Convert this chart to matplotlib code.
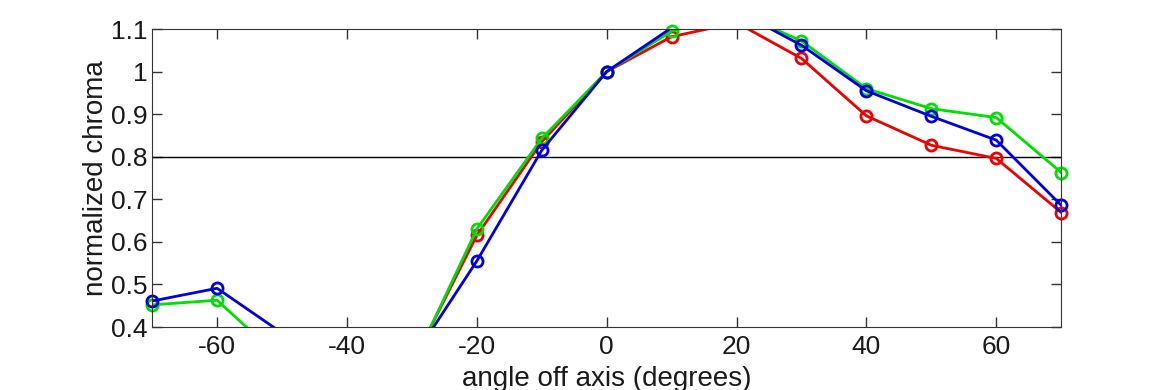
import matplotlib
matplotlib.use("Agg")
import numpy as np
import matplotlib.pyplot as plt
from matplotlib.ticker import FixedLocator, FuncFormatter

plt.rcParams["font.family"] = ["Liberation Sans", "DejaVu Sans"]
plt.rcParams["axes.unicode_minus"] = False

angles = [-70, -60, -50, -40, -30, -20, -10, 0, 10, 20, 30, 40, 50, 60, 70]
red   = [0.30, 0.30, 0.30, 0.30, 0.312, 0.615, 0.835, 1.0, 1.082, 1.115, 1.031, 0.896, 0.827, 0.796, 0.669]
green = [0.452, 0.463, 0.323, 0.30, 0.306, 0.630, 0.843, 1.0, 1.095, 1.14, 1.072, 0.960, 0.913, 0.892, 0.763]
blue  = [0.461, 0.491, 0.386, 0.30, 0.322, 0.555, 0.815, 1.0, 1.103, 1.143, 1.062, 0.955, 0.895, 0.839, 0.686]

YMIN, YMAX = 0.4, 1.1

fig = plt.figure(figsize=(11.7, 3.9), dpi=100)
ax = fig.add_axes([0.130, 0.1615, 0.777, 0.764])

ax.axhline(0.8, color="black", lw=1)
for ys, c in [(red, "#ee0000"), (green, "#00dd00"), (blue, "#0000dd")]:
    ys = np.array(ys)
    ax.plot(angles, ys, color=c, lw=2)
    # markers are not clipped at the left/right edges, only hidden off-scale
    shown = np.ma.masked_where((ys < YMIN) | (ys > YMAX), ys)
    ax.plot(angles, shown, ls="none", marker="o", ms=8, mfc="none", mec=c, mew=2,
            clip_on=False)

ax.set_xlim(-70, 70)
ax.set_ylim(YMIN, YMAX)
ax.xaxis.set_major_locator(FixedLocator([-60, -40, -20, 0, 20, 40, 60]))
ax.yaxis.set_major_locator(FixedLocator(np.round(np.arange(0.4, 1.11, 0.1), 1)))
ax.yaxis.set_major_formatter(FuncFormatter(lambda v, p: f"{v:g}"))
ax.tick_params(direction="in", length=7, width=1, top=True, right=True,
               labelsize=19, colors="#333333", labelcolor="#1a1a1a")
ax.tick_params(axis="x", pad=6)
ax.tick_params(axis="y", pad=3)
for s in ax.spines.values():
    s.set_color("#333333")
ax.set_xlabel("angle off axis (degrees)", fontsize=20, color="#1a1a1a", labelpad=5)
ax.set_ylabel("normalized chroma", fontsize=20, color="#1a1a1a", labelpad=2)

fig.savefig("out.png", dpi=100)
